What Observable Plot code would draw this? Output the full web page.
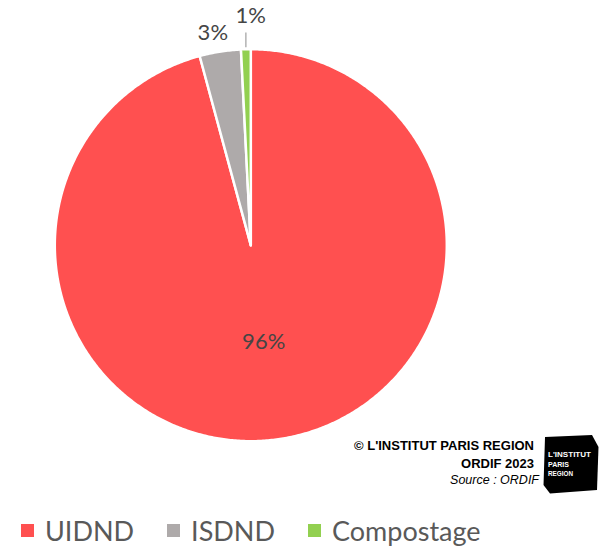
<!DOCTYPE html>
<html>
<head>
<meta charset="utf-8">
<script src="https://cdn.jsdelivr.net/npm/d3@7"></script>
<script src="https://cdn.jsdelivr.net/npm/@observablehq/plot@0.6"></script>
<style>
  html, body { margin: 0; padding: 0; background: #fff; }
  #wrap { position: relative; width: 602px; height: 548px; overflow: hidden; font-family: Lato, "Open Sans", sans-serif; }
  #chart { position: absolute; left: 0; top: 0; }
  .credit { position: absolute; right: 68px; font-family: "Liberation Sans", Arial, sans-serif; font-size: 13px; color: #000; white-space: nowrap; line-height: 14px; }
  #legend { position: absolute; left: 21px; top: 515px; display: flex; align-items: center; gap: 33px; line-height: 32px; font-size: 27px; color: #595959; }
  .item { display: flex; align-items: center; }
  .sw { width: 13px; height: 13px; margin-right: 11px; margin-top: -2px; }
</style>
</head>
<body>
<div id="wrap">
  <div id="chart"></div>
  <div class="credit" style="top:439px;font-weight:bold;">© L'INSTITUT PARIS REGION</div>
  <div class="credit" style="top:457px;font-weight:bold;">ORDIF 2023</div>
  <div class="credit" style="top:473px;right:63px;font-size:12.5px;font-style:italic;">Source : ORDIF</div>
  <svg style="position:absolute;left:540px;top:432px;" width="62" height="66" viewBox="540 432 62 66">
    <polygon points="545,437 592,435 598.5,447 597,490 550,493.5 543.5,485" fill="#000"/>
    <text x="548" y="457" fill="#fff" font-family="'Liberation Sans',Arial,sans-serif" font-weight="bold" font-size="8" textLength="43" lengthAdjust="spacingAndGlyphs">L'INSTITUT</text>
    <text x="548" y="467" fill="#fff" font-family="'Liberation Sans',Arial,sans-serif" font-weight="bold" font-size="8" textLength="21" lengthAdjust="spacingAndGlyphs">PARIS</text>
    <text x="548" y="475.5" fill="#fff" font-family="'Liberation Sans',Arial,sans-serif" font-weight="bold" font-size="8" textLength="25" lengthAdjust="spacingAndGlyphs">REGION</text>
  </svg>
  <div id="legend"></div>
</div>
<script>
// ---- data ----
const categories = ["UIDND", "ISDND", "Compostage"];
const shares = [95.8, 3.4, 0.8];
const labels = ["96%", "3%", "1%"];
const colors = ["#FF5050", "#AEAAAA", "#92D050"];

// ---- geometry (pixels -> unit circle data space) ----
const W = 602, H = 505, R = 196, cx = 250.3, cy = 244.7;

const arcs = d3.pie().sort(null).value(d => d)(shares);

// slice polygons in unit coordinates (x = sin a, y = cos a; y up)
const piePts = [];
arcs.forEach((a, i) => {
  const name = categories[i];
  piePts.push({name, x: 0, y: 0});
  const n = Math.max(2, Math.ceil((a.endAngle - a.startAngle) / (Math.PI / 360)));
  for (let k = 0; k <= n; k++) {
    const t = a.startAngle + (a.endAngle - a.startAngle) * k / n;
    piePts.push({name, x: Math.sin(t), y: Math.cos(t)});
  }
  piePts.push({name, x: 0, y: 0});
});

// label placement: radial factor per slice
const labelRadius = [0.5, 1.1, 1.17];
const labelPts = arcs.map((a, i) => {
  const m = (a.startAngle + a.endAngle) / 2 - (i === 1 ? 0.02 : 0);
  const r = labelRadius[i];
  const x = i === 2 ? 0 : r * Math.sin(m);
  return {x, y: r * Math.cos(m), text: labels[i]};
});

// leader line for the smallest slice
const g = arcs[2];
const gm = (g.startAngle + g.endAngle) / 2;
const leader = [{x1: Math.sin(gm) * 1.0, y1: Math.cos(gm) * 1.01, x2: Math.sin(gm) * 1.0, y2: 1.085}];

const chart = Plot.plot({
  width: W,
  height: H,
  margin: 0,
  x: {domain: [-cx / R, (W - cx) / R], axis: null},
  y: {domain: [(cy - H) / R, cy / R], axis: null},
  color: {domain: categories, range: colors},
  style: {background: "transparent"},
  marks: [
    Plot.line(piePts, {x: "x", y: "y", z: "name", fill: "name", stroke: "white", strokeWidth: 2.5, strokeLinejoin: "round", curve: "linear"}),
    Plot.link(leader, {x1: "x1", y1: "y1", x2: "x2", y2: "y2", stroke: "#A6A6A6", strokeWidth: 1.3}),
    Plot.text(labelPts, {x: "x", y: "y", text: "text", fontSize: 22, fill: "#454545", fontFamily: "Lato, 'Open Sans', sans-serif"})
  ]
});
document.getElementById("chart").appendChild(chart);

// legend
const legend = document.getElementById("legend");
categories.forEach((c, i) => {
  const it = document.createElement("div");
  it.className = "item";
  const sw = document.createElement("div");
  sw.className = "sw";
  sw.style.background = colors[i];
  const tx = document.createElement("span");
  tx.textContent = c;
  it.appendChild(sw);
  it.appendChild(tx);
  legend.appendChild(it);
});
</script>
</body>
</html>
